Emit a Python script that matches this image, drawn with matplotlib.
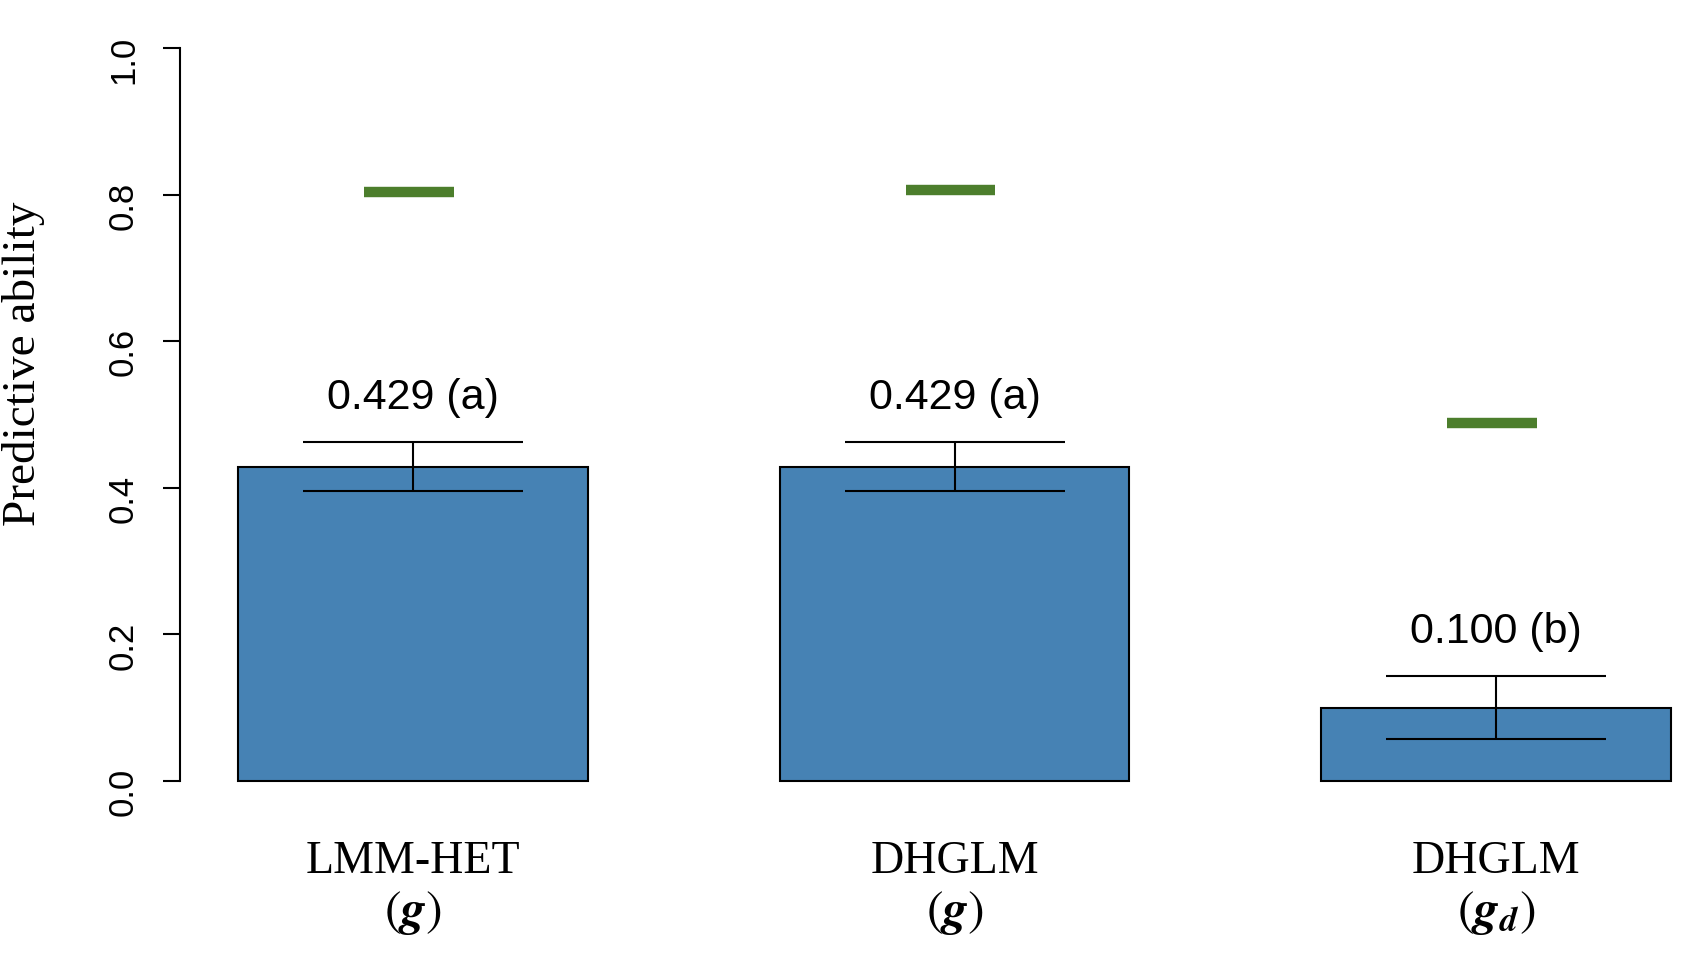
import matplotlib
matplotlib.use("Agg")
import matplotlib.pyplot as plt
import matplotlib.transforms as mtransforms
import numpy as np

# Данные
models = ["LMM-HET", "DHGLM", "DHGLM"]
effects = [r"$(\boldsymbol{g})$", r"$(\boldsymbol{g})$",
           r"$(\boldsymbol{g}_{\boldsymbol{d}})$"]
ability = [0.429, 0.429, 0.100]
ability_err = [0.033, 0.034, 0.043]
letters = ["a", "a", "b"]
green_level = [0.804, 0.806, 0.489]
yticks = [0.0, 0.2, 0.4, 0.6, 0.8, 1.0]

plt.rcParams["mathtext.fontset"] = "stix"

fig = plt.figure(figsize=(16.84, 9.58), dpi=100)
ax = fig.add_axes([0.1071, 0.1544, 0.8929, 0.8257])

x = np.arange(len(models))
ax.bar(x, ability, width=0.646, color="#4682b4", edgecolor="black", linewidth=1.5, zorder=2)
ax.errorbar(x, ability, yerr=ability_err, fmt="none", ecolor="black",
            elinewidth=1.5, capsize=79, capthick=1.5, zorder=3)
ax.hlines(green_level, x - 0.09, x + 0.075, colors="#4c7e2c", linewidth=7.5, zorder=3)

# подписи над столбиками
for xi, v, e, l in zip(x, ability, ability_err, letters):
    ax.text(xi, v + e + 0.045, f"{v:.3f} ({l})", ha="center", va="baseline",
            fontsize=31, family="Liberation Sans")

ax.set_xlim(-0.4295, 2.347)
ax.set_ylim(-0.04, 1.04)

for s in ["top", "right", "bottom"]:
    ax.spines[s].set_visible(False)
ax.spines["left"].set_bounds(0, 1)
ax.spines["left"].set_linewidth(1.5)

ax.set_xticks([])
ax.set_yticks(yticks)
ax.set_yticklabels([f"{t:.1f}" for t in yticks], family="Liberation Sans", fontsize=25)
ax.tick_params(axis="y", length=12, width=1.5, pad=17, labelrotation=90)

# подписи моделей под столбиками
trans = mtransforms.blended_transform_factory(ax.transData, fig.transFigure)
for xi, m, g in zip(x, models, effects):
    ax.text(xi, 0.0887, m, transform=trans, ha="center", va="baseline",
            fontsize=33, family="Liberation Serif")
    ax.text(xi, 0.0345, g, transform=trans, ha="center", va="baseline", fontsize=36)

fig.text(24 / 1684, 1 - 364 / 958, "Predictive ability", rotation=90, ha="center",
         va="center", fontsize=34, family="Liberation Serif")

fig.savefig("out.png", dpi=100)
